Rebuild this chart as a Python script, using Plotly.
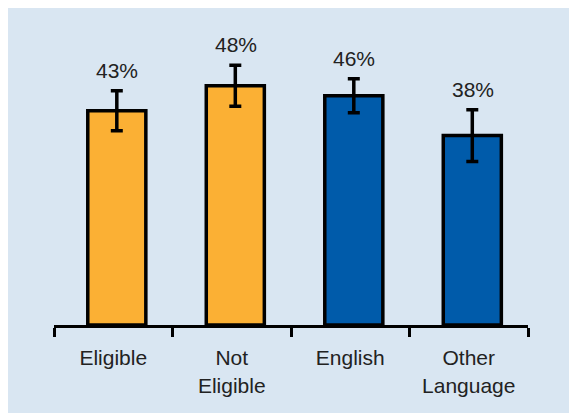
import plotly.graph_objects as go

categories = ["Eligible", "Not<br>Eligible", "English", "Other<br>Language"]
values = [43, 48, 46, 38]
errors = [4.0, 4.1, 3.4, 5.2]
labels = ["43%", "48%", "46%", "38%"]
colors = ["#FBB034", "#FBB034", "#005BAA", "#005BAA"]

BG = "#D9E6F2"
FONT = "Liberation Sans, Arial, sans-serif"

fig = go.Figure()
fig.add_trace(go.Bar(
    x=categories, y=values,
    marker=dict(color=colors, line=dict(color="black", width=3.5)),
    error_y=dict(type="data", array=errors, visible=True, color="black",
                 thickness=3.5, width=6),
    width=0.49, offset=-0.215,
    hoverinfo="skip",
))

for c, v, e, t in zip(categories, values, errors, labels):
    fig.add_annotation(x=c, y=v + e, text=t, showarrow=False, yanchor="bottom",
                       yshift=7, xshift=4,
                       font=dict(family=FONT, size=21, color="#222222"))

fig.update_layout(
    width=569, height=405,
    margin=dict(l=46, r=49, t=12, b=88),
    paper_bgcolor=BG, plot_bgcolor=BG,
    showlegend=False,
    font=dict(family=FONT, size=21, color="#222222"),
    xaxis=dict(
        range=[-0.5, 3.5], showline=True, linecolor="black", linewidth=3,
        ticks="outside", tickson="boundaries", ticklen=9, tickwidth=3,
        tickcolor="black", showgrid=False, zeroline=False,
        ticklabelstandoff=12,
        tickfont=dict(family=FONT, size=21, color="#222222"),
    ),
    yaxis=dict(range=[0, 61.2], visible=False, showgrid=False, zeroline=False),
)

fig.write_html("out.html")
